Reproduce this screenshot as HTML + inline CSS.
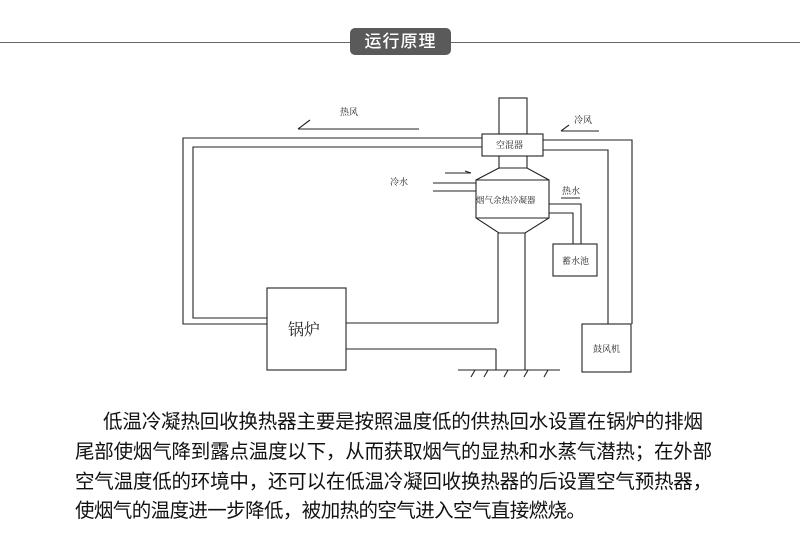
<!DOCTYPE html>
<html><head><meta charset="utf-8"><style>
body{margin:0;width:800px;height:551px;background:#fff;position:relative;overflow:hidden;font-family:"Liberation Sans","Noto Sans CJK SC",sans-serif}
.hr{position:absolute;left:0;top:42px;width:800px;height:1px;background:#666}
.badge{position:absolute;left:350px;top:28px;width:101px;height:27px;background:#5a5a5a;border-radius:5px;color:#fff;font-size:17px;line-height:27px;text-align:center;letter-spacing:1px;font-weight:500}
.t{position:absolute;white-space:nowrap;font-size:19.5px;color:#111;left:75px;letter-spacing:0}
</style></head><body>
<div class="hr"></div>
<div class="badge">运行原理</div>
<svg style="position:absolute;left:0;top:0" width="800" height="551" font-family="Noto Serif CJK SC, serif" font-size="9" fill="none" stroke="#222" stroke-width="1.1">
<rect x="499" y="98" width="28" height="36"/>
<rect x="482" y="134" width="61" height="22" fill="#fff"/>
<line x1="499" y1="156" x2="499" y2="168"/><line x1="527" y1="156" x2="527" y2="168"/>
<path d="M499 168 L476 180 L476 218 L499 233 L525 233 L549 218 L549 180 L527 168 Z"/>
<line x1="476" y1="180" x2="549" y2="180"/><line x1="476" y1="218" x2="549" y2="218"/>
<line x1="498" y1="233" x2="498" y2="323"/><line x1="525" y1="233" x2="525" y2="370"/>
<line x1="496" y1="349" x2="496" y2="370"/>
<line x1="458" y1="370" x2="560" y2="370"/>
<path d="M475 370 l-4 7 M488 370 l-4 7 M508 370 l-4 7 M528 370 l-4 7 M548 370 l-4 7"/>
<path d="M482 138 H183 V324 H267 M482 147 H193 V318 H267"/>
<path d="M543 140 H632 V324 M543 150 H608 V324"/>
<rect x="582" y="324" width="49" height="48"/>
<rect x="267" y="288" width="79" height="82"/>
<path d="M346 323 H498 M346 349 H496"/>
<rect x="553" y="244" width="44" height="32"/>
<path d="M549 204 H581 V244 M549 213 H573 V244"/>
<path d="M433 183 H476 M433 191 H476"/>
<path d="M298 129 H419 M298 129 L310 120"/>
<path d="M561 131 H599 M561 131 L569 125"/>
<path d="M445 173 H471 M471 173 L465 171"/>
<line x1="561" y1="198" x2="580" y2="198"/>
<g fill="#222" stroke="none">
<text x="340" y="115">热风</text>
<text x="574" y="123">冷风</text>
<text x="390" y="185">冷水</text>
<text x="562" y="194">热水</text>
<text x="496" y="148">空混器</text>
<text x="476" y="203" font-size="8.5">烟气余热冷凝器</text>
<text x="562" y="264">蓄水池</text>
<text x="593" y="352">鼓风机</text>
<text x="288" y="335" font-size="16">锅炉</text>
</g>
</svg>
<div class="t" style="left:103px;top:405px;letter-spacing:-0.15px">低温冷凝热回收换热器主要是按照温度低的供热回水设置在锅炉的排烟</div>
<div class="t" style="top:435px;letter-spacing:-0.2px">尾部使烟气降到露点温度以下，从而获取烟气的显热和水蒸气潜热；在外部</div>
<div class="t" style="top:465px;letter-spacing:-0.2px">空气温度低的环境中，还可以在低温冷凝回收换热器的后设置空气预热器，</div>
<div class="t" style="top:494px;letter-spacing:-0.6px">使烟气的温度进一步降低，被加热的空气进入空气直接燃烧。</div>
</body></html>
